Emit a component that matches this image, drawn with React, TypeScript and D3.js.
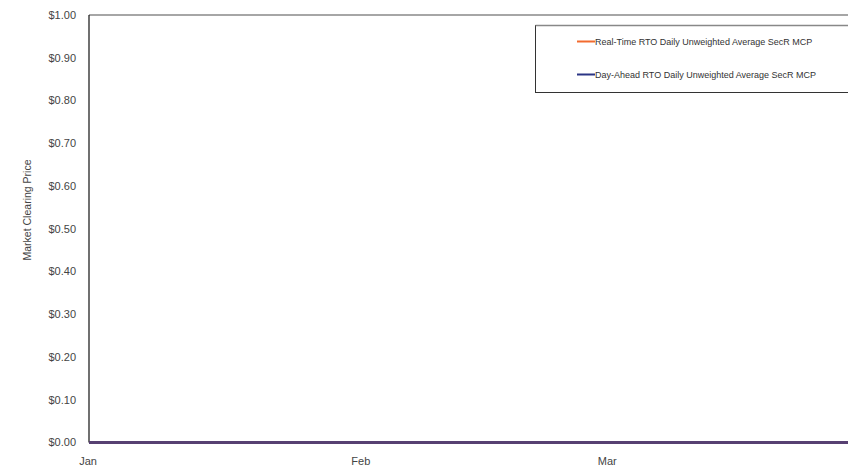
import React, { useEffect, useRef } from "react";
import * as d3 from "d3";

const START_DATE = "2023-01-01";
const END_DATE = "2023-03-31";
const MONTH_TICKS = ["2023-01-01", "2023-02-01", "2023-03-01"];
const MONTH_LABELS = ["Jan", "Feb", "Mar"];
const Y_TICKS = [0, 0.1, 0.2, 0.3, 0.4, 0.5, 0.6, 0.7, 0.8, 0.9, 1.0];
const SERIES_NAMES = [
  "Real-Time RTO Daily Unweighted Average SecR MCP",
  "Day-Ahead RTO Daily Unweighted Average SecR MCP",
];
const SERIES_COLORS = ["#F26B2F", "#2B3585"];
// daily values Jan 1 .. Mar 31 (90 days), all zero
const REAL_TIME = [
  0, 0, 0, 0, 0, 0, 0, 0, 0, 0, 0, 0, 0, 0, 0, 0, 0, 0, 0, 0, 0, 0, 0, 0, 0, 0, 0, 0, 0, 0, 0,
  0, 0, 0, 0, 0, 0, 0, 0, 0, 0, 0, 0, 0, 0, 0, 0, 0, 0, 0, 0, 0, 0, 0, 0, 0, 0, 0, 0,
  0, 0, 0, 0, 0, 0, 0, 0, 0, 0, 0, 0, 0, 0, 0, 0, 0, 0, 0, 0, 0, 0, 0, 0, 0, 0, 0, 0, 0, 0, 0,
];
const DAY_AHEAD = [
  0, 0, 0, 0, 0, 0, 0, 0, 0, 0, 0, 0, 0, 0, 0, 0, 0, 0, 0, 0, 0, 0, 0, 0, 0, 0, 0, 0, 0, 0, 0,
  0, 0, 0, 0, 0, 0, 0, 0, 0, 0, 0, 0, 0, 0, 0, 0, 0, 0, 0, 0, 0, 0, 0, 0, 0, 0, 0, 0,
  0, 0, 0, 0, 0, 0, 0, 0, 0, 0, 0, 0, 0, 0, 0, 0, 0, 0, 0, 0, 0, 0, 0, 0, 0, 0, 0, 0, 0, 0, 0,
];

const W = 848;
const H = 466;
const FONT = "'Liberation Sans', Arial, sans-serif";

export default function App() {
  const ref = useRef<SVGSVGElement>(null);

  useEffect(() => {
    const svg = d3.select(ref.current);
    svg.selectAll("*").remove();

    const left = 89;
    const top = 15;
    const bottom = 442.5;
    const pxPerDay = 8.8;
    const parse = d3.utcParse("%Y-%m-%d");
    const d0 = parse(START_DATE)!;
    const d1 = parse(END_DATE)!;
    const days = d3.utcDay.count(d0, d1);
    const right = left + pxPerDay * days;

    const x = d3.scaleUtc().domain([d0, d1]).range([left, right]);
    const y = d3.scaleLinear().domain([0, 1]).range([bottom, top]);

    const dates = d3.utcDay.range(d0, d3.utcDay.offset(d1, 1));

    svg.append("line")
      .attr("x1", left).attr("x2", right).attr("y1", top).attr("y2", top)
      .attr("stroke", "#888").attr("stroke-width", 1.5);
    svg.append("line")
      .attr("x1", left).attr("x2", left).attr("y1", top).attr("y2", bottom)
      .attr("stroke", "#111").attr("stroke-width", 1.2);

    svg.append("g").selectAll("text").data(Y_TICKS).join("text")
      .attr("x", left - 13)
      .attr("y", (d) => y(d))
      .attr("dy", "0.35em")
      .attr("text-anchor", "end")
      .attr("font-family", FONT)
      .attr("font-size", 11)
      .attr("fill", "#444")
      .text((d) => "$" + d3.format(".2f")(d));

    svg.append("g").selectAll("text").data(MONTH_TICKS).join("text")
      .attr("x", (d) => x(parse(d)!) - 1)
      .attr("y", 465)
      .attr("text-anchor", "middle")
      .attr("font-family", FONT)
      .attr("font-size", 11)
      .attr("fill", "#444")
      .text((_, i) => MONTH_LABELS[i]);

    svg.append("text")
      .attr("transform", `translate(31, 210) rotate(-90)`)
      .attr("text-anchor", "middle")
      .attr("font-family", FONT)
      .attr("font-size", 10.5)
      .attr("fill", "#444")
      .text("Market Clearing Price");

    const line = d3.line<number>()
      .x((_, i) => x(dates[i]))
      .y((d) => y(d));

    svg.append("path").datum(REAL_TIME)
      .attr("d", line).attr("fill", "none")
      .attr("stroke", SERIES_COLORS[0]).attr("stroke-width", 3.2);
    svg.append("path").datum(DAY_AHEAD)
      .attr("d", line).attr("fill", "none")
      .attr("stroke", SERIES_COLORS[1]).attr("stroke-width", 3.2)
      .attr("stroke-opacity", 0.78);

    const lx = 535.5, ly = 25.5, lw = 330, lh = 67;
    svg.append("rect")
      .attr("x", lx).attr("y", ly).attr("width", lw).attr("height", lh)
      .attr("fill", "#fff").attr("stroke", "#333").attr("stroke-width", 1);
    svg.append("line")
      .attr("x1", lx).attr("x2", lx + lw).attr("y1", ly).attr("y2", ly)
      .attr("stroke", "#888").attr("stroke-width", 1.5);
    const rows = [41.5, 74.5];
    SERIES_NAMES.forEach((name, i) => {
      svg.append("line")
        .attr("x1", 577).attr("x2", 595)
        .attr("y1", rows[i]).attr("y2", rows[i])
        .attr("stroke", SERIES_COLORS[i]).attr("stroke-width", 2);
      svg.append("text")
        .attr("x", 595).attr("y", rows[i]).attr("dy", "0.35em")
        .attr("font-family", FONT).attr("font-size", 9)
        .attr("fill", "#333")
        .text(name);
    });
  }, []);

  return (
    <svg
      ref={ref}
      width={W}
      height={H}
      style={{ position: "absolute", left: 0, top: 0, background: "#fff" }}
    />
  );
}
